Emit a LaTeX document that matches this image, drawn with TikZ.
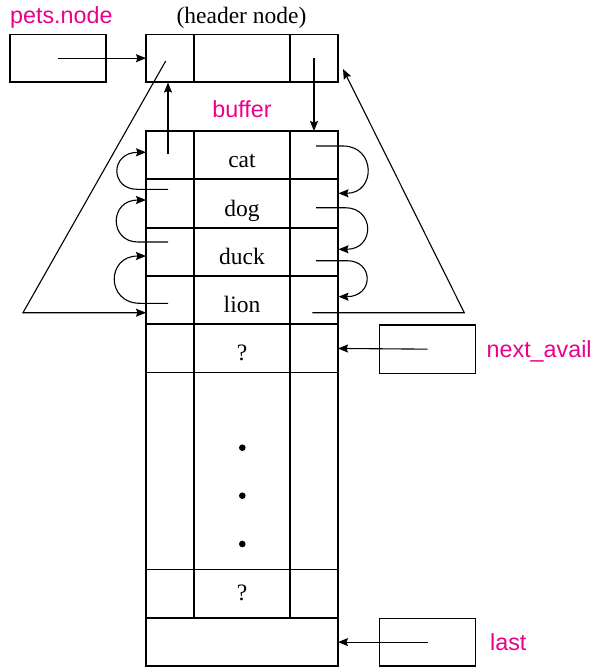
\documentclass[tikz,border=0pt]{standalone}
\usepackage{fontspec}
\setmainfont{Liberation Serif}
\setsansfont{Liberation Sans}
\usetikzlibrary{arrows.meta}
\definecolor{mag}{RGB}{234,0,140}
\begin{document}
\begin{tikzpicture}[x=1pt,y=-1pt,
  cell/.style={draw, line width=1.2pt, inner sep=0pt, outer sep=0pt, minimum height=48.3pt},
  lc/.style={cell, minimum width=48pt},
  mc/.style={cell, minimum width=96pt},
  wc/.style={cell, minimum width=192pt},
  serlab/.style={font=\fontsize{23.5}{28}\selectfont, inner sep=0pt, anchor=base},
  sanlab/.style={font=\sffamily\fontsize{23.3}{28}\selectfont, text=mag, inner sep=0pt, anchor=base west},
  arr/.style={line width=1.1pt, -{Stealth[length=10pt,width=8pt,inset=1.5pt]}},
  sep/.style={line width=1.9pt},
  dotn/.style={circle, fill=black, inner sep=0pt, minimum size=6.6pt}]
\useasboundingbox (0,0) rectangle (595,669);

% pets.node box and header node
\node[mc, minimum height=47.7pt] (pets) at (58,58.2) {};
\node[lc, minimum height=47.7pt] (hl) at (170,58.2) {};
\node[mc, minimum height=47.7pt] (hm) at (242,58.2) {};
\node[lc, minimum height=47.7pt] (hr) at (314,58.2) {};

% buffer rows
\foreach \n/\y in {1/155.15,2/203.5,3/251.85,4/300.15,5/348.45}{
  \node[lc] (l\n) at (170,\y) {};
  \node[mc] (m\n) at (242,\y) {};
  \node[lc] (r\n) at (314,\y) {};
}
\node[lc, minimum height=196.7pt] (lb) at (170,470.95) {};
\node[mc, minimum height=196.7pt] (mb) at (242,470.95) {};
\node[lc, minimum height=196.7pt] (rb) at (314,470.95) {};
\node[lc, minimum height=48.4pt] (l6) at (170,593.5) {};
\node[mc, minimum height=48.4pt] (m6) at (242,593.5) {};
\node[lc, minimum height=48.4pt] (r6) at (314,593.5) {};
\node[wc] (lastrow) at (242,641.85) {};

% thicker row separators
\draw[sep] (l1.south west) -- (r1.south east);
\draw[sep] (l2.south west) -- (r2.south east);
\draw[sep] (l3.south west) -- (r3.south east);
\draw[sep] (l4.south west) -- (r4.south east);
\draw[sep] (lastrow.north west) -- (lastrow.north east);

% next_avail and last boxes
\node[cell, minimum width=96.4pt] (na) at (427.5,349.15) {};
\node[cell, minimum width=96.4pt, minimum height=47.7pt] (lp) at (427.5,642.1) {};

% texts
\node[sanlab] (tpets) at (10,24) {pets.node};
\node[serlab] (thead) at (241.5,23.5) {(header node)};
\node[sanlab, anchor=base] (tbuf) at (242,117.7) {buffer};
\node[serlab] (t1) at (242,167.7) {cat};
\node[serlab] (t2) at (242,216.5) {dog};
\node[serlab] (t3) at (242,264.3) {duck};
\node[serlab] (t4) at (242,312.5) {lion};
\node[serlab] (t5) at (242,360.5) {?};
\node[serlab] (t6) at (242,600.5) {?};
\node[sanlab] (tna) at (486.5,357) {next\_avail};
\node[sanlab] (tlast) at (490,650) {last};

% dots
\node[dotn] (d1) at (242.3,447.7) {};
\node[dotn] (d2) at (242.3,495.7) {};
\node[dotn] (d3) at (242.3,544) {};

% straight arrows
\draw[arr] (pets.center) -- (hl.west |- pets.center);
\draw[arr] (hr.center) -- (r1.north);
\coordinate (upS) at (168,153.5);
\coordinate (upE) at (168,82.5);
\draw[arr] (upS) -- (upE);
\draw[arr] (na.center) -- (r5.east);
\draw[arr] (lp.center) -- (lastrow.east |- lp.center);

% big left triangle
\coordinate (tlA) at (165.7,61);
\coordinate (tlB) at (23,312.7);
\coordinate (tlC) at (146,312.7);
\draw[arr] (tlA) -- (tlB) -- (tlC);

% big right triangle
\coordinate (trA) at (312.3,312.7);
\coordinate (trB) at (464.3,312.7);
\coordinate (trC) at (343,69);
\draw[arr] (trA) -- (trB) -- (trC);

% left curved arrows
\coordinate (la1) at (168,189.3);  \coordinate (lb1) at (146,152.3);
\coordinate (la2) at (168,242);    \coordinate (lb2) at (146,200);
\coordinate (la3) at (168,303.3);  \coordinate (lb3) at (146,256);
\draw[arr] (la1) -- (137,189.3) .. controls (110,189.3) and (110,152.3) .. (lb1);
\draw[arr] (la2) -- (138,242) .. controls (109,242) and (109,200) .. (lb2);
\draw[arr] (la3) -- (140,303.3) .. controls (106,303.3) and (106,256) .. (lb3);

% right curved arrows
\coordinate (ra1) at (316,146);    \coordinate (rb1) at (338.5,193.3);
\coordinate (ra2) at (316,207.7);  \coordinate (rb2) at (338.5,249.3);
\coordinate (ra3) at (316,260.7);  \coordinate (rb3) at (338.5,296.7);
\draw[arr] (ra1) -- (343,146) .. controls (376,146) and (376,193.3) .. (rb1);
\draw[arr] (ra2) -- (345,207.7) .. controls (375,207.7) and (375,249.3) .. (rb2);
\draw[arr] (ra3) -- (347,260.7) .. controls (374,260.7) and (374,296.7) .. (rb3);
\end{tikzpicture}
\end{document}
